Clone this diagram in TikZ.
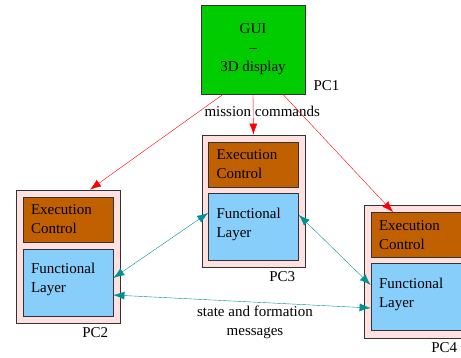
\documentclass[tikz,border=0pt]{standalone}
\usepackage{fontspec}
\setmainfont{Liberation Serif}
\usepackage{tikz}
\usepackage{xcolor}
\usetikzlibrary{positioning, arrows.meta}

\definecolor{guigreen}{RGB}{0,204,0}
\definecolor{ecbrown}{RGB}{192,96,0}
\definecolor{flblue}{RGB}{135,206,250}
\definecolor{pcpink}{RGB}{255,224,224}
\definecolor{msgteal}{RGB}{0,145,145}

\begin{document}
\begin{tikzpicture}[x=1pt, y=-1pt,
  every node/.style={font=\fontsize{15}{19}\selectfont},
  pcbox/.style={draw=black!80, line width=0.8pt, fill=pcpink, minimum width=104pt, minimum height=133pt},
  ecbox/.style={draw=black!80, line width=0.8pt, fill=ecbrown, minimum width=90pt, minimum height=45pt, text width=74pt, inner xsep=8pt, align=left},
  flbox/.style={draw=black!80, line width=0.8pt, fill=flblue, minimum width=90pt, minimum height=67pt, text width=74pt, inner xsep=8pt, align=left, text depth=28pt},
  pclabel/.style={inner sep=1pt},
  cmd/.style={red, -{Latex[length=11pt, width=8pt]}},
  msg/.style={msgteal, {Latex[length=11pt, width=8pt]}-{Latex[length=11pt, width=8pt]}}]
\useasboundingbox (0,0) rectangle (461,358);

% GUI
\node [draw=black!80, line width=0.8pt, fill=guigreen, minimum width=104pt, minimum height=89pt, align=center] (gui) at (253,49.5) {GUI\\--\\3D display};
\node [pclabel, above right=3pt and 7pt of gui.south east] (pc1) {PC1};

% PC2
\node [pcbox] (pc2) at (68,256.5) {};
\node [ecbox] (ec2) at (68,219.5) {Execution\\Control};
\node [flbox] (fl2) at (68,282.5) {Functional\\Layer};
\node [pclabel, below left=3pt and 11pt of pc2.south east] (pc2l) {PC2};

% PC3
\node [pcbox, minimum width=103pt, minimum height=132pt] (pc3) at (253.5,201) {};
\node [ecbox, minimum width=89pt] (ec3) at (253.5,164.5) {Execution\\Control};
\node [flbox, minimum width=89pt] (fl3) at (253.5,227) {Functional\\Layer};
\node [pclabel, below left=3pt and 9pt of pc3.south east] (pc3l) {PC3};

% PC4
\node [pcbox] (pc4) at (416,271.5) {};
\node [ecbox] (ec4) at (416,235) {Execution\\Control};
\node [flbox] (fl4) at (416,297) {Functional\\Layer};
\node [pclabel, below left=3pt and 10pt of pc4.south east] (pc4l) {PC4};

% mission commands
\draw [cmd] ([xshift=-30pt]gui.south) -- ([xshift=22pt]pc2.north);
\draw [cmd] (gui.south) -- node [pos=0.42, xshift=9pt, text=black] {mission commands} (pc3.north);
\draw [cmd] ([xshift=30pt]gui.south) -- ([xshift=-23pt]ec4.north);

% state and formation messages
\draw [msg] ([yshift=4.5pt]fl2.east) -- ([yshift=14pt]fl3.west);
\draw [msg] ([yshift=12pt]fl3.east) -- ([yshift=12pt]fl4.west);
\draw [msg] ([yshift=-12.5pt]fl2.east) -- node [below=1pt, xshift=13pt, align=center, text=black] {state and formation\\messages} ([yshift=-11pt]fl4.west);
\end{tikzpicture}
\end{document}
